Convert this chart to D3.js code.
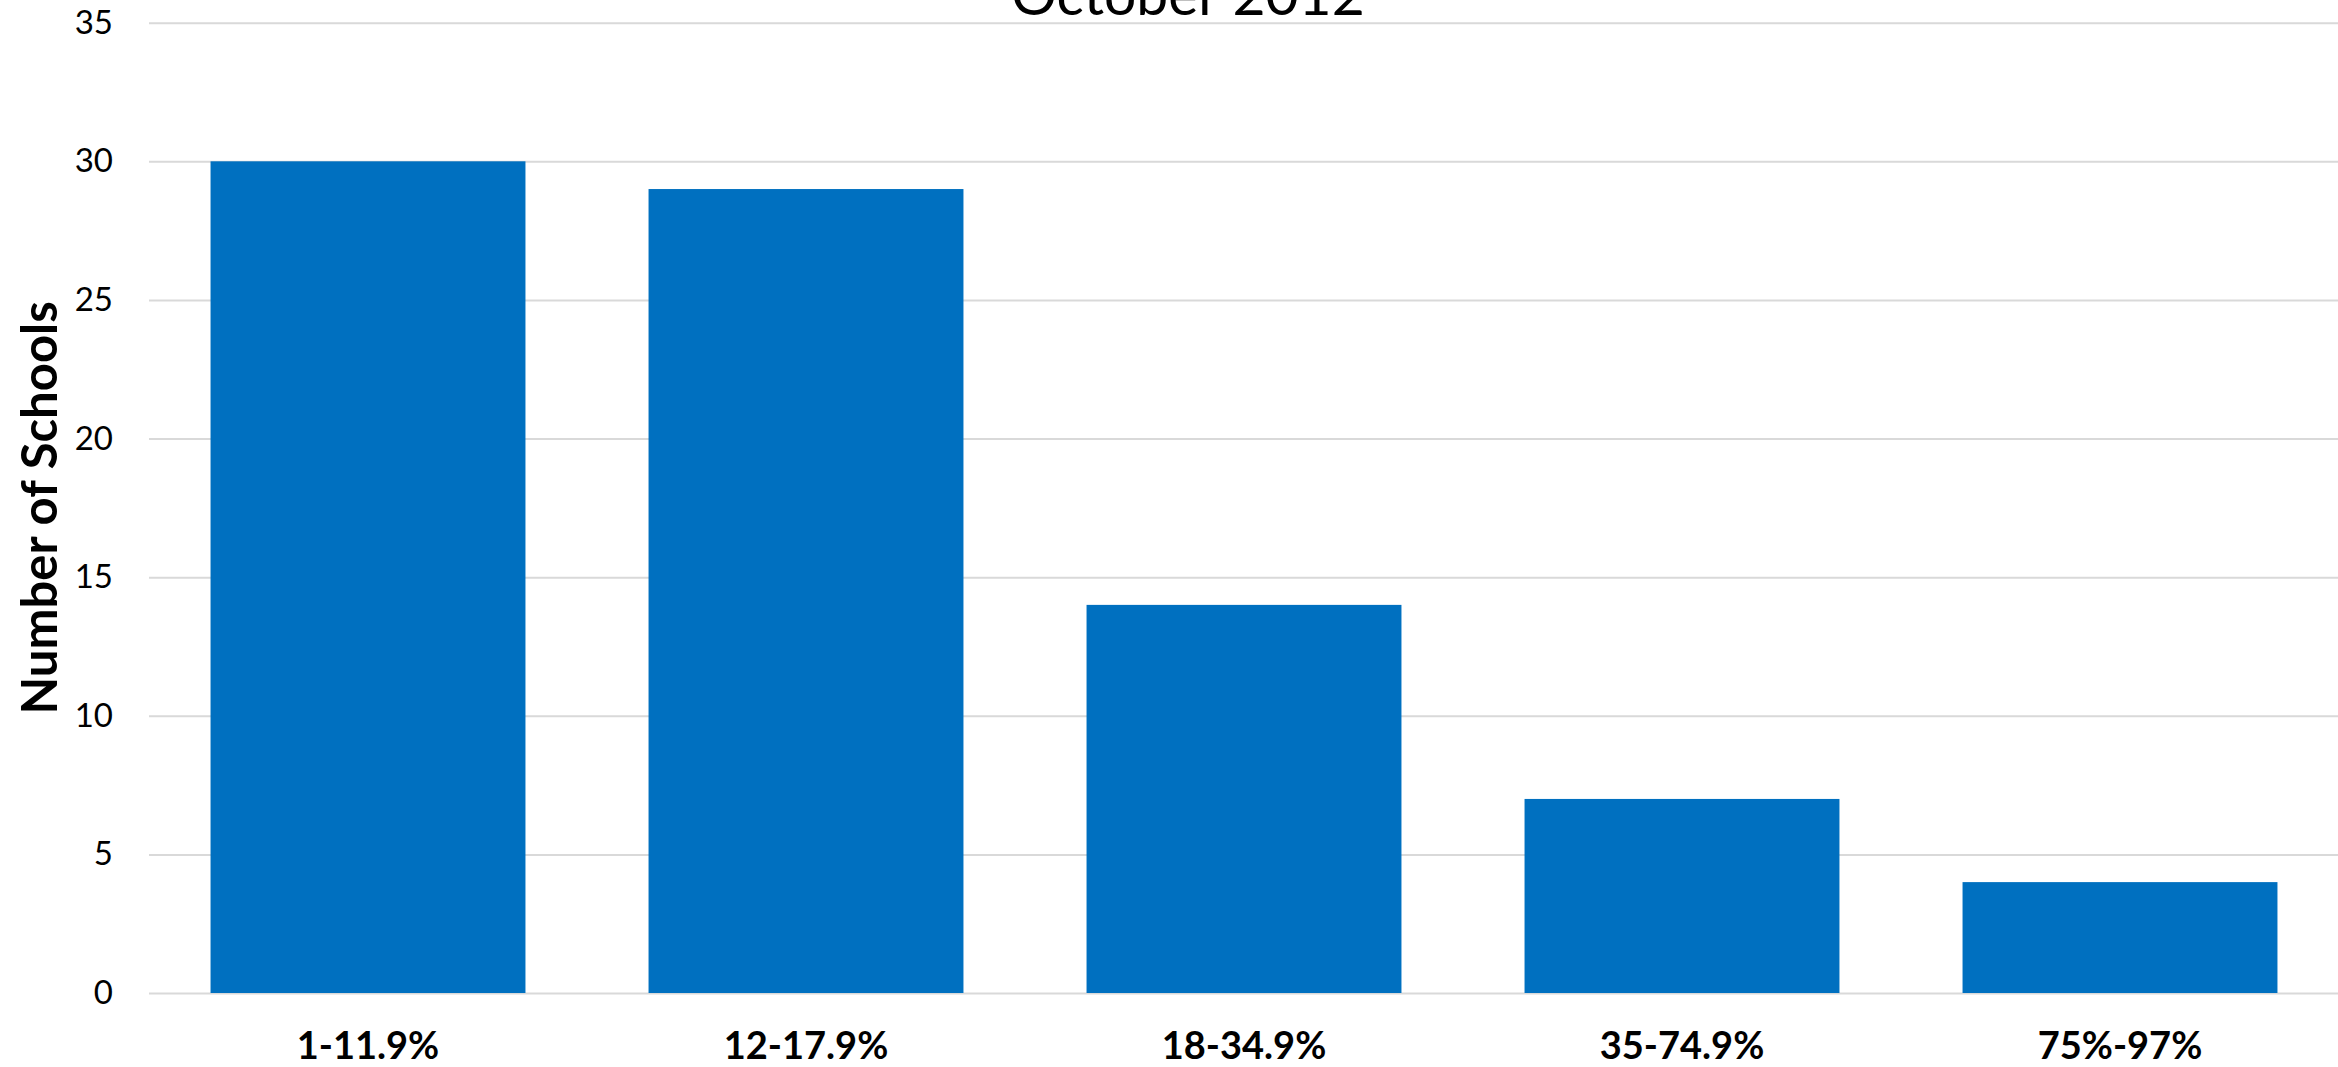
<!DOCTYPE html>
<html>
<head>
<meta charset="utf-8">
<script src="https://cdn.jsdelivr.net/npm/d3@7"></script>
<style>
  html, body { margin: 0; padding: 0; background: #fff; }
  svg { display: block; }
  text { font-family: Lato, "Open Sans", sans-serif; fill: #000; }
</style>
</head>
<body>
<svg id="chart" width="2338" height="1067"></svg>
<script>
// Data
const categories = ["1-11.9%", "12-17.9%", "18-34.9%", "35-74.9%", "75%-97%"];
const schoolCounts = [30, 29, 14, 7, 4];
const yTicks = [0, 5, 10, 15, 20, 25, 30, 35];
const titleText = "October 2012";
const yTitleText = "Number of Schools";

const W = 2338, H = 1067;
const plot = { left: 149, right: 2339, top: 22.7, bottom: 993 };

const svg = d3.select("#chart");

const x = d3.scaleBand()
  .domain(categories)
  .range([plot.left, plot.right])
  .paddingInner(0.281)
  .paddingOuter(0.1405);

const y = d3.scaleLinear()
  .domain([0, 35])
  .range([plot.bottom, plot.top]);

// Gridlines + y tick labels
const yAxis = d3.axisLeft(y)
  .tickValues(yTicks)
  .tickSize(-(plot.right - plot.left))
  .tickPadding(36)
  .tickFormat(d3.format("d"));

const gy = svg.append("g")
  .attr("transform", `translate(${plot.left},0)`)
  .call(yAxis);
gy.select(".domain").remove();
gy.selectAll(".tick line").attr("stroke", "#D9D9D9").attr("stroke-width", 2);
gy.selectAll(".tick text")
  .attr("font-family", "Lato, 'Open Sans', sans-serif")
  .attr("font-size", 33)
  .attr("fill", "#000");

// Bars
svg.append("g")
  .selectAll("rect")
  .data(categories.map((c, i) => ({ c, v: schoolCounts[i] })))
  .join("rect")
  .attr("x", d => x(d.c))
  .attr("y", d => y(d.v))
  .attr("width", x.bandwidth())
  .attr("height", d => y(0) - y(d.v))
  .attr("fill", "#0070C0");

// X axis labels
const xAxis = d3.axisBottom(x).tickSize(0).tickPadding(0);
const gx = svg.append("g")
  .attr("transform", `translate(0,${plot.bottom})`)
  .call(xAxis);
gx.select(".domain").remove();
gx.selectAll(".tick text")
  .attr("dy", null)
  .attr("y", 66)
  .attr("font-family", "Lato, 'Open Sans', sans-serif")
  .attr("font-size", 38)
  .attr("font-weight", "bold")
  .attr("fill", "#000");

// Title (partially cut off at top)
svg.append("text")
  .attr("x", 1188)
  .attr("y", 15)
  .attr("text-anchor", "middle")
  .attr("font-size", 57)
  .text(titleText);

// Y axis title
svg.append("text")
  .attr("transform", `translate(57,${(plot.top + plot.bottom) / 2}) rotate(-90)`)
  .attr("text-anchor", "middle")
  .attr("font-size", 49)
  .attr("font-weight", "bold")
  .text(yTitleText);
</script>
</body>
</html>
